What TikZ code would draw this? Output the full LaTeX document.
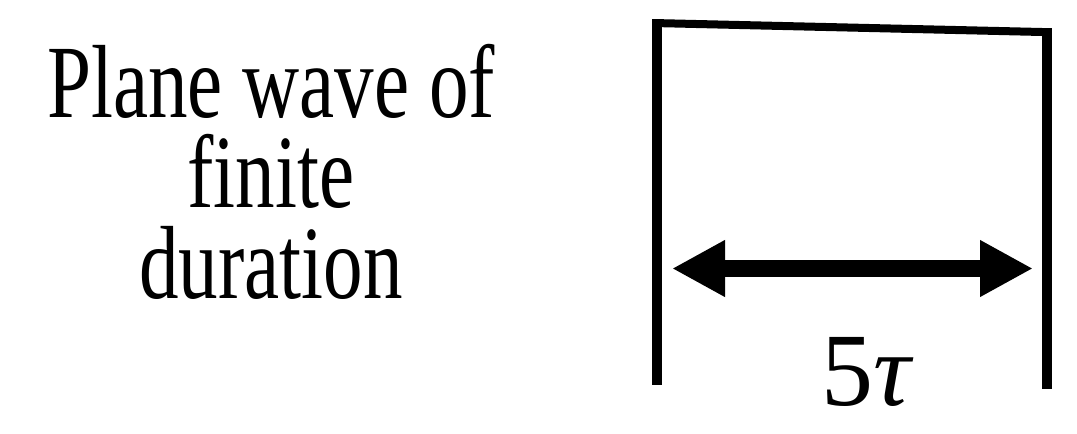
\documentclass[tikz,border=0pt]{standalone}
\usepackage{fontspec}
\usetikzlibrary{arrows.meta}
\newfontfamily\lblfont[FakeStretch=0.76]{Liberation Serif}
\newfontfamily\symfont{Liberation Serif}
\tikzset{
  wall/.style={line width=10pt},
  roof/.style={line width=8pt},
  span/.style={line width=17pt,{Triangle[length=53pt,width=53pt]}-{Triangle[length=53pt,width=53pt]}},
  lbl/.style={inner sep=0pt,anchor=base,align=center,font=\lblfont\fontsize{104}{90.5}\selectfont},
  mathlbl/.style={inner sep=0pt,anchor=base,font=\symfont\fontsize{104}{104}\selectfont}
}
\begin{document}
\begin{tikzpicture}[x=1pt,y=-1pt]
\useasboundingbox (0,0) rectangle (1077,434);
% text
\node[lbl] (txt) at (271,298) {Plane wave of\\finite\\duration};
% box
\coordinate (lt) at (657,19);
\coordinate (lb) at (657,385);
\coordinate (rt) at (1047,28);
\coordinate (rb) at (1047,389);
\coordinate (tl) at (653,23);
\coordinate (tr) at (1042,32);
\draw[wall] (lt) -- (lb);
\draw[wall] (rt) -- (rb);
\draw[roof] (tl) -- (tr);
% arrow
\coordinate (al) at (672,268.5);
\coordinate (ar) at (1033,268.5);
\draw[span] (al) -- (ar);
\node[mathlbl] (dur) at (866,405) {5\itshape τ};
\end{tikzpicture}
\end{document}
